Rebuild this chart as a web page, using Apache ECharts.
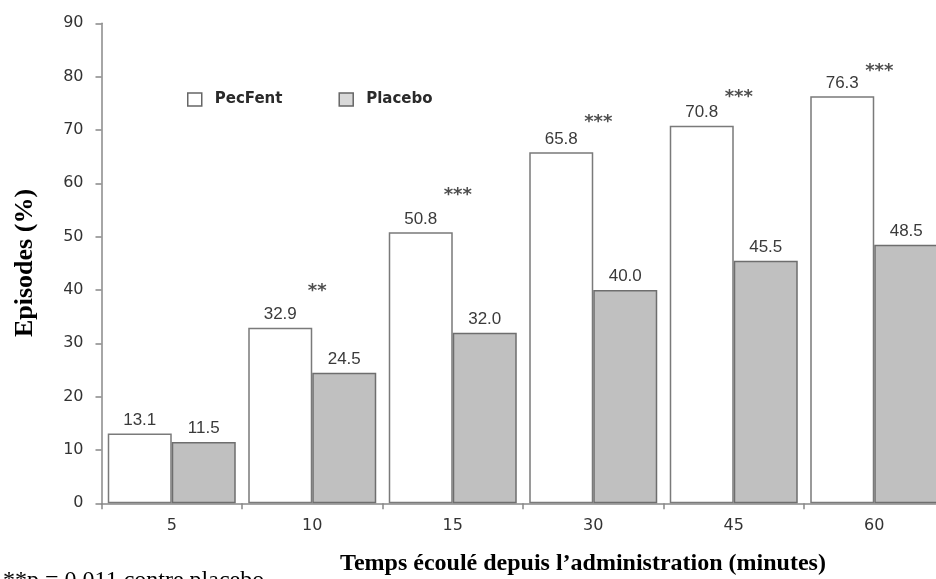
<!DOCTYPE html>
<html>
<head>
<meta charset="utf-8">
<script src="https://cdn.jsdelivr.net/npm/echarts@6/dist/echarts.min.js"></script>
<style>
html,body{margin:0;padding:0;background:#fff;}
#c{width:936px;height:579px;}
</style>
</head>
<body>
<div id="c"></div>
<script>
var categories = ['5', '10', '15', '30', '45', '60'];
var pecfent = [13.1, 32.9, 50.8, 65.8, 70.8, 76.3];
var placebo = [11.5, 24.5, 32.0, 40.0, 45.5, 48.5];
var sigLabels = ['', '**', '***', '***', '***', '***'];
var sigY = [null, 40.6, 58.6, 72.4, 77.1, 82.0];
var yTicks = { min: 0, max: 90, interval: 10 };

var chart = echarts.init(document.getElementById('c'), null, { renderer: 'canvas' });

var tickFont = { fontFamily: 'DejaVu Sans', fontWeight: 'normal', fontSize: 16, color: '#333' };
var valueLabel = {
  show: true,
  position: 'top',
  distance: 5,
  fontFamily: 'Liberation Sans',
  fontSize: 17,
  color: '#3a3a3a',
  formatter: function (p) { return Number(p.value).toFixed(1); }
};

chart.setOption({
  backgroundColor: '#fff',
  animation: false,
  grid: { left: 101.5, right: -8.5, top: 23.3, bottom: 75.7, containLabel: false, outerBoundsMode: 'none' },
  legend: {
    left: 182,
    top: 87,
    orient: 'horizontal',
    itemWidth: 14,
    itemHeight: 13,
    itemGap: 56,
    icon: 'rect',
    selectedMode: false,
    textStyle: { fontFamily: 'DejaVu Sans', fontWeight: 'bold', fontSize: 15, color: '#2a2a2a', padding: [0, 0, 0, 8] },
    data: [
      { name: 'PecFent', itemStyle: { color: '#fff', borderColor: '#666', borderWidth: 1.5 } },
      { name: 'Placebo', itemStyle: { color: '#d9d9d9', borderColor: '#666', borderWidth: 1.5 } }
    ]
  },
  xAxis: {
    type: 'category',
    data: categories,
    boundaryGap: true,
    axisLine: { show: true, lineStyle: { color: '#888', width: 1.5 } },
    axisTick: { show: true, length: 6, lineStyle: { color: '#888', width: 1.5 } },
    axisLabel: Object.assign({ margin: 15 }, tickFont),
    splitLine: { show: false }
  },
  yAxis: {
    type: 'value',
    min: yTicks.min,
    max: yTicks.max,
    interval: yTicks.interval,
    axisLine: { show: true, lineStyle: { color: '#888', width: 1.5 } },
    axisTick: { show: true, length: 6, lineStyle: { color: '#888', width: 1.5 } },
    axisLabel: Object.assign({ margin: 18 }, tickFont),
    splitLine: { show: false }
  },
  series: [
    {
      name: 'PecFent',
      type: 'bar',
      data: pecfent,
      barWidth: 64,
      barGap: '0%',
      itemStyle: { color: '#fff', borderColor: '#7a7a7a', borderWidth: 1.5 },
      label: valueLabel,
      emphasis: { disabled: true }
    },
    {
      name: 'Placebo',
      type: 'bar',
      data: placebo,
      barWidth: 64,
      barGap: '0%',
      itemStyle: { color: '#c0c0c0', borderColor: '#6e6e6e', borderWidth: 1.5 },
      label: valueLabel,
      emphasis: { disabled: true }
    },
    {
      name: 'sig',
      type: 'scatter',
      data: sigY,
      symbolSize: 0,
      silent: true,
      label: {
        show: true,
        position: 'inside',
        offset: [5, 5],
        fontFamily: 'DejaVu Sans',
        fontWeight: 'bold',
        fontSize: 18,
        color: '#222',
        formatter: function (p) { return sigLabels[p.dataIndex]; }
      }
    }
  ],
  graphic: [
    {
      type: 'text',
      x: 25, y: 263,
      rotation: Math.PI / 2,
      style: {
        text: 'Episodes (%)',
        font: 'bold 26px "Liberation Serif"',
        fill: '#000',
        align: 'center',
        verticalAlign: 'middle'
      }
    },
    {
      type: 'text',
      x: 583, y: 564,
      style: {
        text: 'Temps écoulé depuis l’administration (minutes)',
        font: 'bold 24px "Liberation Serif"',
        fill: '#000',
        align: 'center',
        verticalAlign: 'middle'
      }
    },
    {
      type: 'text',
      x: 3, y: 581,
      style: {
        text: '**p = 0.011 contre placebo',
        font: '24px "Liberation Serif"',
        fill: '#000',
        align: 'left',
        verticalAlign: 'middle'
      }
    }
  ]
});
</script>
</body>
</html>
